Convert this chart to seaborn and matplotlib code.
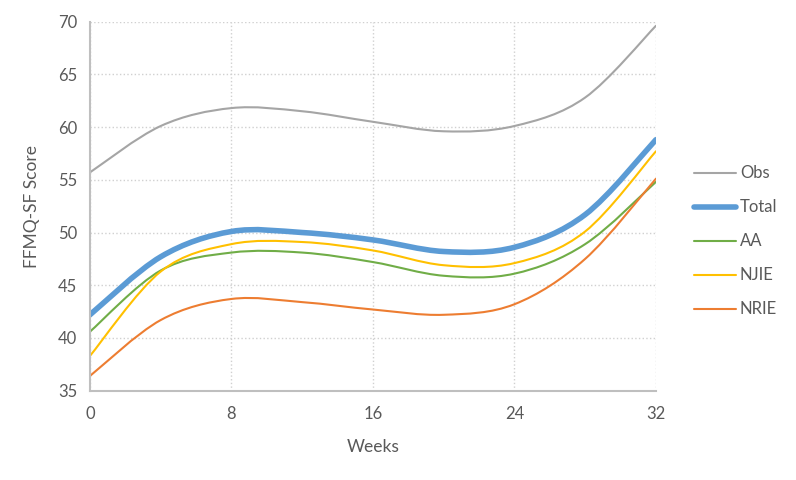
import matplotlib
matplotlib.use("Agg")
import matplotlib.pyplot as plt
import seaborn as sns
import numpy as np
from matplotlib.path import Path
from matplotlib.patches import PathPatch
from matplotlib.lines import Line2D

weeks = [0, 4, 8, 12, 16, 20, 24, 28, 32]
obs = [55.7, 60.1, 61.8, 61.5, 60.5, 59.6, 60.1, 62.8, 69.6]
total = [42.2, 47.7, 50.1, 50.0, 49.3, 48.2, 48.6, 51.7, 58.8]
aa = [40.6, 46.4, 48.1, 48.1, 47.2, 45.9, 46.1, 48.9, 54.8]
njie = [38.3, 46.3, 48.9, 49.1, 48.3, 46.9, 47.1, 50.1, 57.7]
nrie = [36.4, 41.7, 43.7, 43.4, 42.7, 42.2, 43.2, 47.5, 55.1]

series_names = ["Obs", "Total", "AA", "NJIE", "NRIE"]
series_values = [obs, total, aa, njie, nrie]
colors = ["#A5A5A5", "#5B9BD5", "#70AD47", "#FFC000", "#ED7D31"]
widths = [1.5, 4.0, 1.5, 1.5, 1.5]

sns.set_style("white")
plt.rcParams['font.family'] = ['Lato', 'DejaVu Sans']
text_color = "#595959"


def smooth_path(x, y):
    # excel-like smoothed line: catmull-rom as cubic bezier segments
    pts = np.column_stack([x, y]).astype(float)
    n = len(pts)
    verts = [pts[0]]
    codes = [Path.MOVETO]
    for i in range(n - 1):
        p0 = pts[max(i - 1, 0)]
        p1 = pts[i]
        p2 = pts[i + 1]
        p3 = pts[min(i + 2, n - 1)]
        c1 = p1 + (p2 - p0) / 6.0
        c2 = p2 - (p3 - p1) / 6.0
        verts += [c1, c2, p2]
        codes += [Path.CURVE4] * 3
    return Path(verts, codes)


fig = plt.figure(figsize=(7.96, 4.8), dpi=100)
ax = fig.add_axes([0.113, 0.186, 0.711, 0.769])

handles = []
for name, vals, c, w in zip(series_names, series_values, colors, widths):
    patch = PathPatch(smooth_path(weeks, vals), facecolor="none", edgecolor=c,
                      lw=w, capstyle="round", joinstyle="round")
    ax.add_patch(patch)
    handles.append(Line2D([], [], color=c, lw=w, solid_capstyle="round"))

ax.set_xlim(0, 32)
ax.set_ylim(35, 70)
ax.set_xticks([0, 8, 16, 24, 32])
ax.set_yticks(range(35, 71, 5))
ax.grid(True, linestyle=":", color="#D0D0D0", linewidth=1.0)
for s in ["top", "right"]:
    ax.spines[s].set_visible(False)
for s in ["left", "bottom"]:
    ax.spines[s].set_color("#BFBFBF")
    ax.spines[s].set_linewidth(1.5)
ax.tick_params(length=0, labelsize=12, colors=text_color)
ax.tick_params(axis="y", pad=9)
ax.tick_params(axis="x", pad=11)
ax.set_xlabel("Weeks", fontsize=12.5, color=text_color, labelpad=12)
ax.set_ylabel("FFMQ-SF Score", fontsize=12.5, color=text_color, labelpad=13)

fig.legend(handles, series_names, loc="center left", bbox_to_anchor=(0.853, 0.497),
           frameon=False, fontsize=12, labelcolor=text_color, labelspacing=1.08,
           handlelength=2.5, handletextpad=0.25)

fig.savefig("out.png", dpi=100)
